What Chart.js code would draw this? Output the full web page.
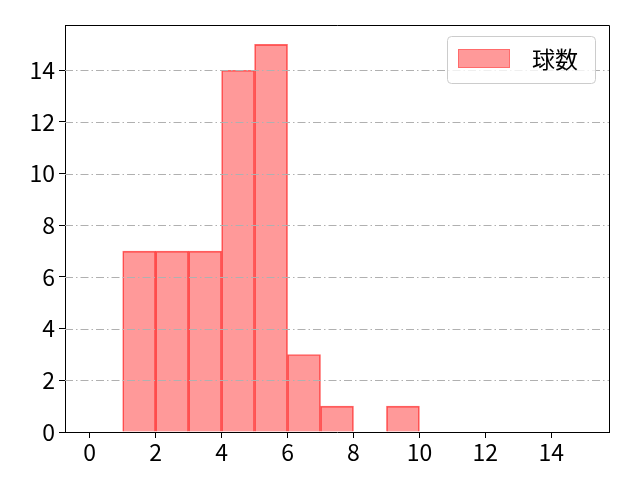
<!DOCTYPE html>
<html>
<head>
<meta charset="utf-8">
<script src="https://cdn.jsdelivr.net/npm/chart.js@4/dist/chart.umd.min.js"></script>
<style>
  html, body { margin: 0; padding: 0; background: #fff; }
  canvas { display: block; }
</style>
</head>
<body>
<canvas id="hist" width="640" height="480"></canvas>
<script>
// histogram bins (left edge) and counts
const binStarts = [1, 2, 3, 4, 5, 6, 7, 8, 9];
const counts = [7, 7, 7, 14, 15, 3, 1, 0, 1];
const xTicks = [0, 2, 4, 6, 8, 10, 12, 14];
const yTicks = [0, 2, 4, 6, 8, 10, 12, 14];
const seriesLabel = '球数';

const FONT = '"Noto Sans CJK JP", "Noto Sans", sans-serif';
const barFill = 'rgba(255, 0, 0, 0.4)';
const barEdge = 'rgba(255, 0, 0, 0.6)';

// grid on top of bars + full frame + legend box, like matplotlib
const overlay = {
    id: 'overlay',
    afterDatasetsDraw(chart) {
        const ctx = chart.ctx;
        const area = chart.chartArea;
        const y = chart.scales.y;
        ctx.save();
        ctx.strokeStyle = '#b0b0b0';
        ctx.lineWidth = 1;
        ctx.setLineDash([8, 3, 1.5, 3]);
        yTicks.forEach(v => {
            if (v === 0) return;
            const py = Math.round(y.getPixelForValue(v)) + 0.5;
            ctx.beginPath();
            ctx.moveTo(area.left, py);
            ctx.lineTo(area.right, py);
            ctx.stroke();
        });
        ctx.setLineDash([]);
        ctx.strokeStyle = '#000';
        ctx.beginPath();
        ctx.moveTo(area.left, area.top + 0.5);
        ctx.lineTo(area.right + 0.5, area.top + 0.5);
        ctx.lineTo(area.right + 0.5, area.bottom);
        ctx.stroke();

        // legend
        const bx = 447, by = 36, bw = 148, bh = 47;
        ctx.fillStyle = 'rgba(255,255,255,0.8)';
        ctx.strokeStyle = '#cccccc';
        ctx.beginPath();
        ctx.roundRect(bx + 0.5, by + 0.5, bw, bh, 4);
        ctx.fill();
        ctx.stroke();
        ctx.fillStyle = barFill;
        ctx.fillRect(458, 49, 52, 19);
        ctx.strokeStyle = 'rgba(255, 0, 0, 0.3)';
        ctx.lineWidth = 1;
        ctx.strokeRect(458.5, 49.5, 51, 18);
        ctx.fillStyle = '#000';
        ctx.font = '23px ' + FONT;
        ctx.textBaseline = 'middle';
        ctx.textAlign = 'left';
        ctx.fillText(chart.data.datasets[0].label, 532, 59);
        ctx.restore();
    }
};

new Chart(document.getElementById('hist'), {
    type: 'bar',
    data: {
        datasets: [{
            label: seriesLabel,
            data: binStarts.map((s, i) => ({ x: s + 0.5, y: counts[i] })),
            backgroundColor: barFill,
            borderColor: barEdge,
            borderWidth: 1,
            borderSkipped: 'start',
            barPercentage: 1,
            categoryPercentage: 1
        }]
    },
    options: {
        responsive: false,
        animation: false,
        devicePixelRatio: 1,
        layout: { padding: { top: 25, right: 31, left: 0, bottom: 0 } },
        plugins: {
            legend: { display: false },
            tooltip: { enabled: false }
        },
        scales: {
            x: {
                type: 'linear',
                offset: false,
                min: -0.75,
                max: 15.75,
                afterBuildTicks: s => { s.ticks = xTicks.map(v => ({ value: v })); },
                afterFit: s => { s.height = 48; },
                ticks: { color: '#000', font: { family: FONT, size: 23 }, padding: 0, maxRotation: 0 },
                grid: { offset: false, drawOnChartArea: false, drawTicks: true, tickLength: 6, tickColor: '#000' },
                border: { color: '#000', width: 1 }
            },
            y: {
                min: 0,
                max: 15.75,
                afterBuildTicks: s => { s.ticks = yTicks.map(v => ({ value: v })); },
                afterFit: s => { s.width = 65; },
                ticks: { color: '#000', font: { family: FONT, size: 23 }, padding: 4 },
                grid: { drawOnChartArea: false, drawTicks: true, tickLength: 6, tickColor: '#000' },
                border: { color: '#000', width: 1 }
            }
        }
    },
    plugins: [overlay]
});
</script>
</body>
</html>
